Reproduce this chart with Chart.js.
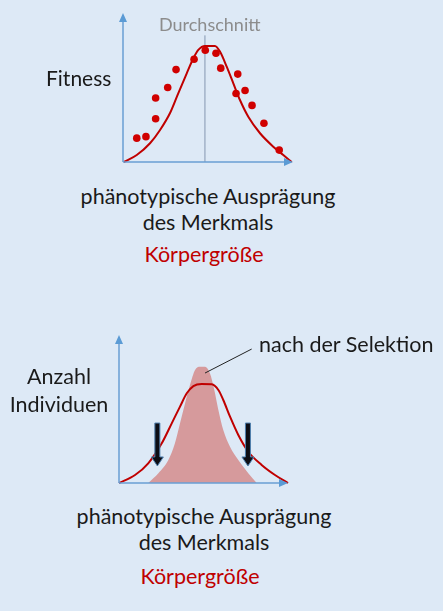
<!DOCTYPE html>
<html lang="de">
<head>
<meta charset="utf-8">
<script src="https://cdn.jsdelivr.net/npm/chart.js"></script>
<style>
  html, body { margin: 0; padding: 0; }
  body { width: 443px; height: 611px; background: #dde9f6; position: relative; overflow: hidden;
         font-family: Lato, "Open Sans", sans-serif; color: #1a1a1a; }
  .box { position: absolute; }
  .lbl { position: absolute; white-space: nowrap; transform: translate(-50%, -50%); line-height: 1; }
  .lbl.left { transform: translate(0, -50%); }
</style>
</head>
<body>
<div class="box" style="left:0;top:0;width:443px;height:170px"><canvas id="fitnessChart"></canvas></div>
<div class="box" style="left:0;top:320px;width:443px;height:180px"><canvas id="selectionChart"></canvas></div>
<div id="labels"></div>
<script>
// Fitness chart data (x: Merkmal 0..10, y: Fitness 0..1)
const fitnessDotsX = [0.81, 1.35, 1.92, 1.92, 2.63, 3.12, 4.18, 4.84, 5.47, 5.75, 6.75, 6.65, 7.18, 7.59, 8.29, 9.19];
const fitnessDotsY = [0.16, 0.17, 0.29, 0.43, 0.50, 0.62, 0.69, 0.75, 0.73, 0.63, 0.59, 0.46, 0.48, 0.38, 0.26, 0.08];
const fitnessCurveX = [0.05, 0.81, 1.59, 2.18, 2.76, 3.25, 3.75, 4.14, 4.43, 4.82, 5.41, 5.71, 6.10, 6.49, 6.88, 7.37, 8.06, 8.84, 9.43, 9.92];
const fitnessCurveY = [0, 0.047, 0.126, 0.215, 0.327, 0.461, 0.595, 0.696, 0.752, 0.779, 0.779, 0.740, 0.640, 0.528, 0.416, 0.304, 0.193, 0.103, 0.047, 0];
const meanX = 4.82;
const meanTop = 0.85;

// Selection chart data (x: Merkmal 0..10, y: Anzahl 0..1)
const beforeX = [0, 0.95, 1.73, 2.53, 3.12, 3.61, 4.01, 4.40, 4.89, 5.49, 5.88, 6.17, 6.57, 7.06, 7.65, 8.44, 9.23, 10];
const beforeY = [0, 0.054, 0.133, 0.268, 0.403, 0.516, 0.606, 0.655, 0.669, 0.667, 0.628, 0.561, 0.448, 0.324, 0.211, 0.122, 0.054, 0];
const afterX = [1.73, 2.33, 2.92, 3.31, 3.61, 3.91, 4.20, 4.50, 4.79, 5.09, 5.38, 5.64, 5.88, 6.17, 6.57, 7.06, 7.65, 8.15];
const afterY = [0, 0.066, 0.155, 0.268, 0.403, 0.539, 0.662, 0.764, 0.786, 0.786, 0.741, 0.628, 0.493, 0.358, 0.245, 0.155, 0.066, 0];
const arrowX = [2.27, 7.63];
const arrowFrom = 0.405;
const arrowTo = 0.115;
const pointerFrom = { x: 5.09, y: 0.743 };
const pointerTo = { x: 7.85, y: 0.905 };

const labels = [
  { text: "Durchschnitt", x: 159, y: 24, size: 18, color: "#8c8c8c", left: true },
  { text: "Fitness", x: 46, y: 77, size: 21, left: true },
  { text: "phänotypische Ausprägung", x: 208, y: 197, size: 21.5 },
  { text: "des Merkmals", x: 208, y: 223, size: 21.5 },
  { text: "Körpergröße", x: 204, y: 255, size: 21.5, color: "#c00000" },
  { text: "nach der Selektion", x: 259, y: 345, size: 21.5, left: true },
  { text: "Anzahl", x: 59, y: 377, size: 21.5 },
  { text: "Individuen", x: 59, y: 405, size: 21.5 },
  { text: "phänotypische Ausprägung", x: 204, y: 517, size: 21.5 },
  { text: "des Merkmals", x: 204, y: 543, size: 21.5 },
  { text: "Körpergröße", x: 200, y: 577, size: 21.5, color: "#c00000" },
];

const toPoints = (xs, ys) => xs.map((x, i) => ({ x: x, y: ys[i] }));

// arrows for both axes, drawn from the scales
const axisArrows = {
  id: "axisArrows",
  afterDatasetsDraw(chart) {
    const { ctx, scales: { x, y } } = chart;
    const x0 = x.getPixelForValue(0), y0 = y.getPixelForValue(0);
    const x1 = x.getPixelForValue(x.max), y1 = y.getPixelForValue(y.max);
    ctx.save();
    ctx.strokeStyle = "#6a9fd4";
    ctx.fillStyle = "#5b9bd5";
    ctx.lineWidth = 1.5;
    ctx.beginPath();
    ctx.moveTo(x0, y0); ctx.lineTo(x1 - 6, y0);
    ctx.moveTo(x0, y0); ctx.lineTo(x0, y1 + 6);
    ctx.stroke();
    ctx.beginPath();
    ctx.moveTo(x1, y0); ctx.lineTo(x1 - 9, y0 - 4); ctx.lineTo(x1 - 9, y0 + 4); ctx.closePath();
    ctx.moveTo(x0, y1); ctx.lineTo(x0 - 4, y1 + 9); ctx.lineTo(x0 + 4, y1 + 9); ctx.closePath();
    ctx.fill();
    ctx.restore();
  }
};

const selectionMarks = {
  id: "selectionMarks",
  afterDatasetsDraw(chart) {
    const { ctx, scales: { x, y } } = chart;
    ctx.save();
    arrowX.forEach(v => {
      const px = x.getPixelForValue(v);
      const top = y.getPixelForValue(arrowFrom), tip = y.getPixelForValue(arrowTo);
      ctx.beginPath();
      ctx.moveTo(px - 2.5, top);
      ctx.lineTo(px + 2.5, top);
      ctx.lineTo(px + 2.5, tip - 9);
      ctx.lineTo(px + 6, tip - 9);
      ctx.lineTo(px, tip);
      ctx.lineTo(px - 6, tip - 9);
      ctx.lineTo(px - 2.5, tip - 9);
      ctx.closePath();
      ctx.fillStyle = "#0d0d14";
      ctx.strokeStyle = "#4f7fae";
      ctx.lineWidth = 1;
      ctx.fill();
      ctx.stroke();
    });
    ctx.beginPath();
    ctx.moveTo(x.getPixelForValue(pointerFrom.x), y.getPixelForValue(pointerFrom.y));
    ctx.lineTo(x.getPixelForValue(pointerTo.x), y.getPixelForValue(pointerTo.y));
    ctx.strokeStyle = "#222";
    ctx.lineWidth = 1;
    ctx.stroke();
    ctx.restore();
  }
};

function baseOptions(pad, maxY) {
  return {
    responsive: true,
    maintainAspectRatio: false,
    animation: false,
    layout: { padding: pad },
    plugins: { legend: { display: false }, tooltip: { enabled: false } },
    scales: {
      x: { type: "linear", min: 0, max: 10, display: false },
      y: { type: "linear", min: 0, max: maxY, display: false }
    }
  };
}

function loadFitnessChart() {
  new Chart(document.getElementById("fitnessChart"), {
    type: "scatter",
    data: {
      datasets: [
        { data: toPoints(fitnessDotsX, fitnessDotsY), backgroundColor: "#d00000", borderColor: "#d00000",
          pointRadius: 3.8, borderWidth: 0, showLine: false, clip: false },
        { data: toPoints(fitnessCurveX, fitnessCurveY), showLine: true, borderColor: "#c00000", borderWidth: 2,
          pointRadius: 0, cubicInterpolationMode: "monotone", clip: false },
        { data: [{ x: meanX, y: 0 }, { x: meanX, y: meanTop }], showLine: true, borderColor: "#8497b0",
          borderWidth: 1, pointRadius: 0 }
      ]
    },
    options: baseOptions({ left: 123, right: 150, top: 13, bottom: 8 }, 1),
    plugins: [axisArrows]
  });
}

function loadSelectionChart() {
  new Chart(document.getElementById("selectionChart"), {
    type: "scatter",
    data: {
      datasets: [
        { data: toPoints(beforeX, beforeY), showLine: true, borderColor: "#c00000", borderWidth: 2,
          pointRadius: 0, cubicInterpolationMode: "monotone", clip: false },
        { data: toPoints(afterX, afterY), showLine: true, borderWidth: 0, borderColor: "rgba(0,0,0,0)",
          backgroundColor: "#d69a9c", fill: "origin", pointRadius: 0, cubicInterpolationMode: "monotone" }
      ]
    },
    options: baseOptions({ left: 119, right: 155, top: 15, bottom: 17 }, 1),
    plugins: [axisArrows, selectionMarks]
  });
}

function loadLabels() {
  const holder = document.getElementById("labels");
  holder.innerHTML = labels.map(l => `
    <div class="lbl${l.left ? " left" : ""}" style="left:${l.x}px;top:${l.y}px;font-size:${l.size}px;color:${l.color || "#1a1a1a"}">${l.text}</div>
  `).join("");
}

loadLabels();
loadFitnessChart();
loadSelectionChart();
</script>
</body>
</html>
